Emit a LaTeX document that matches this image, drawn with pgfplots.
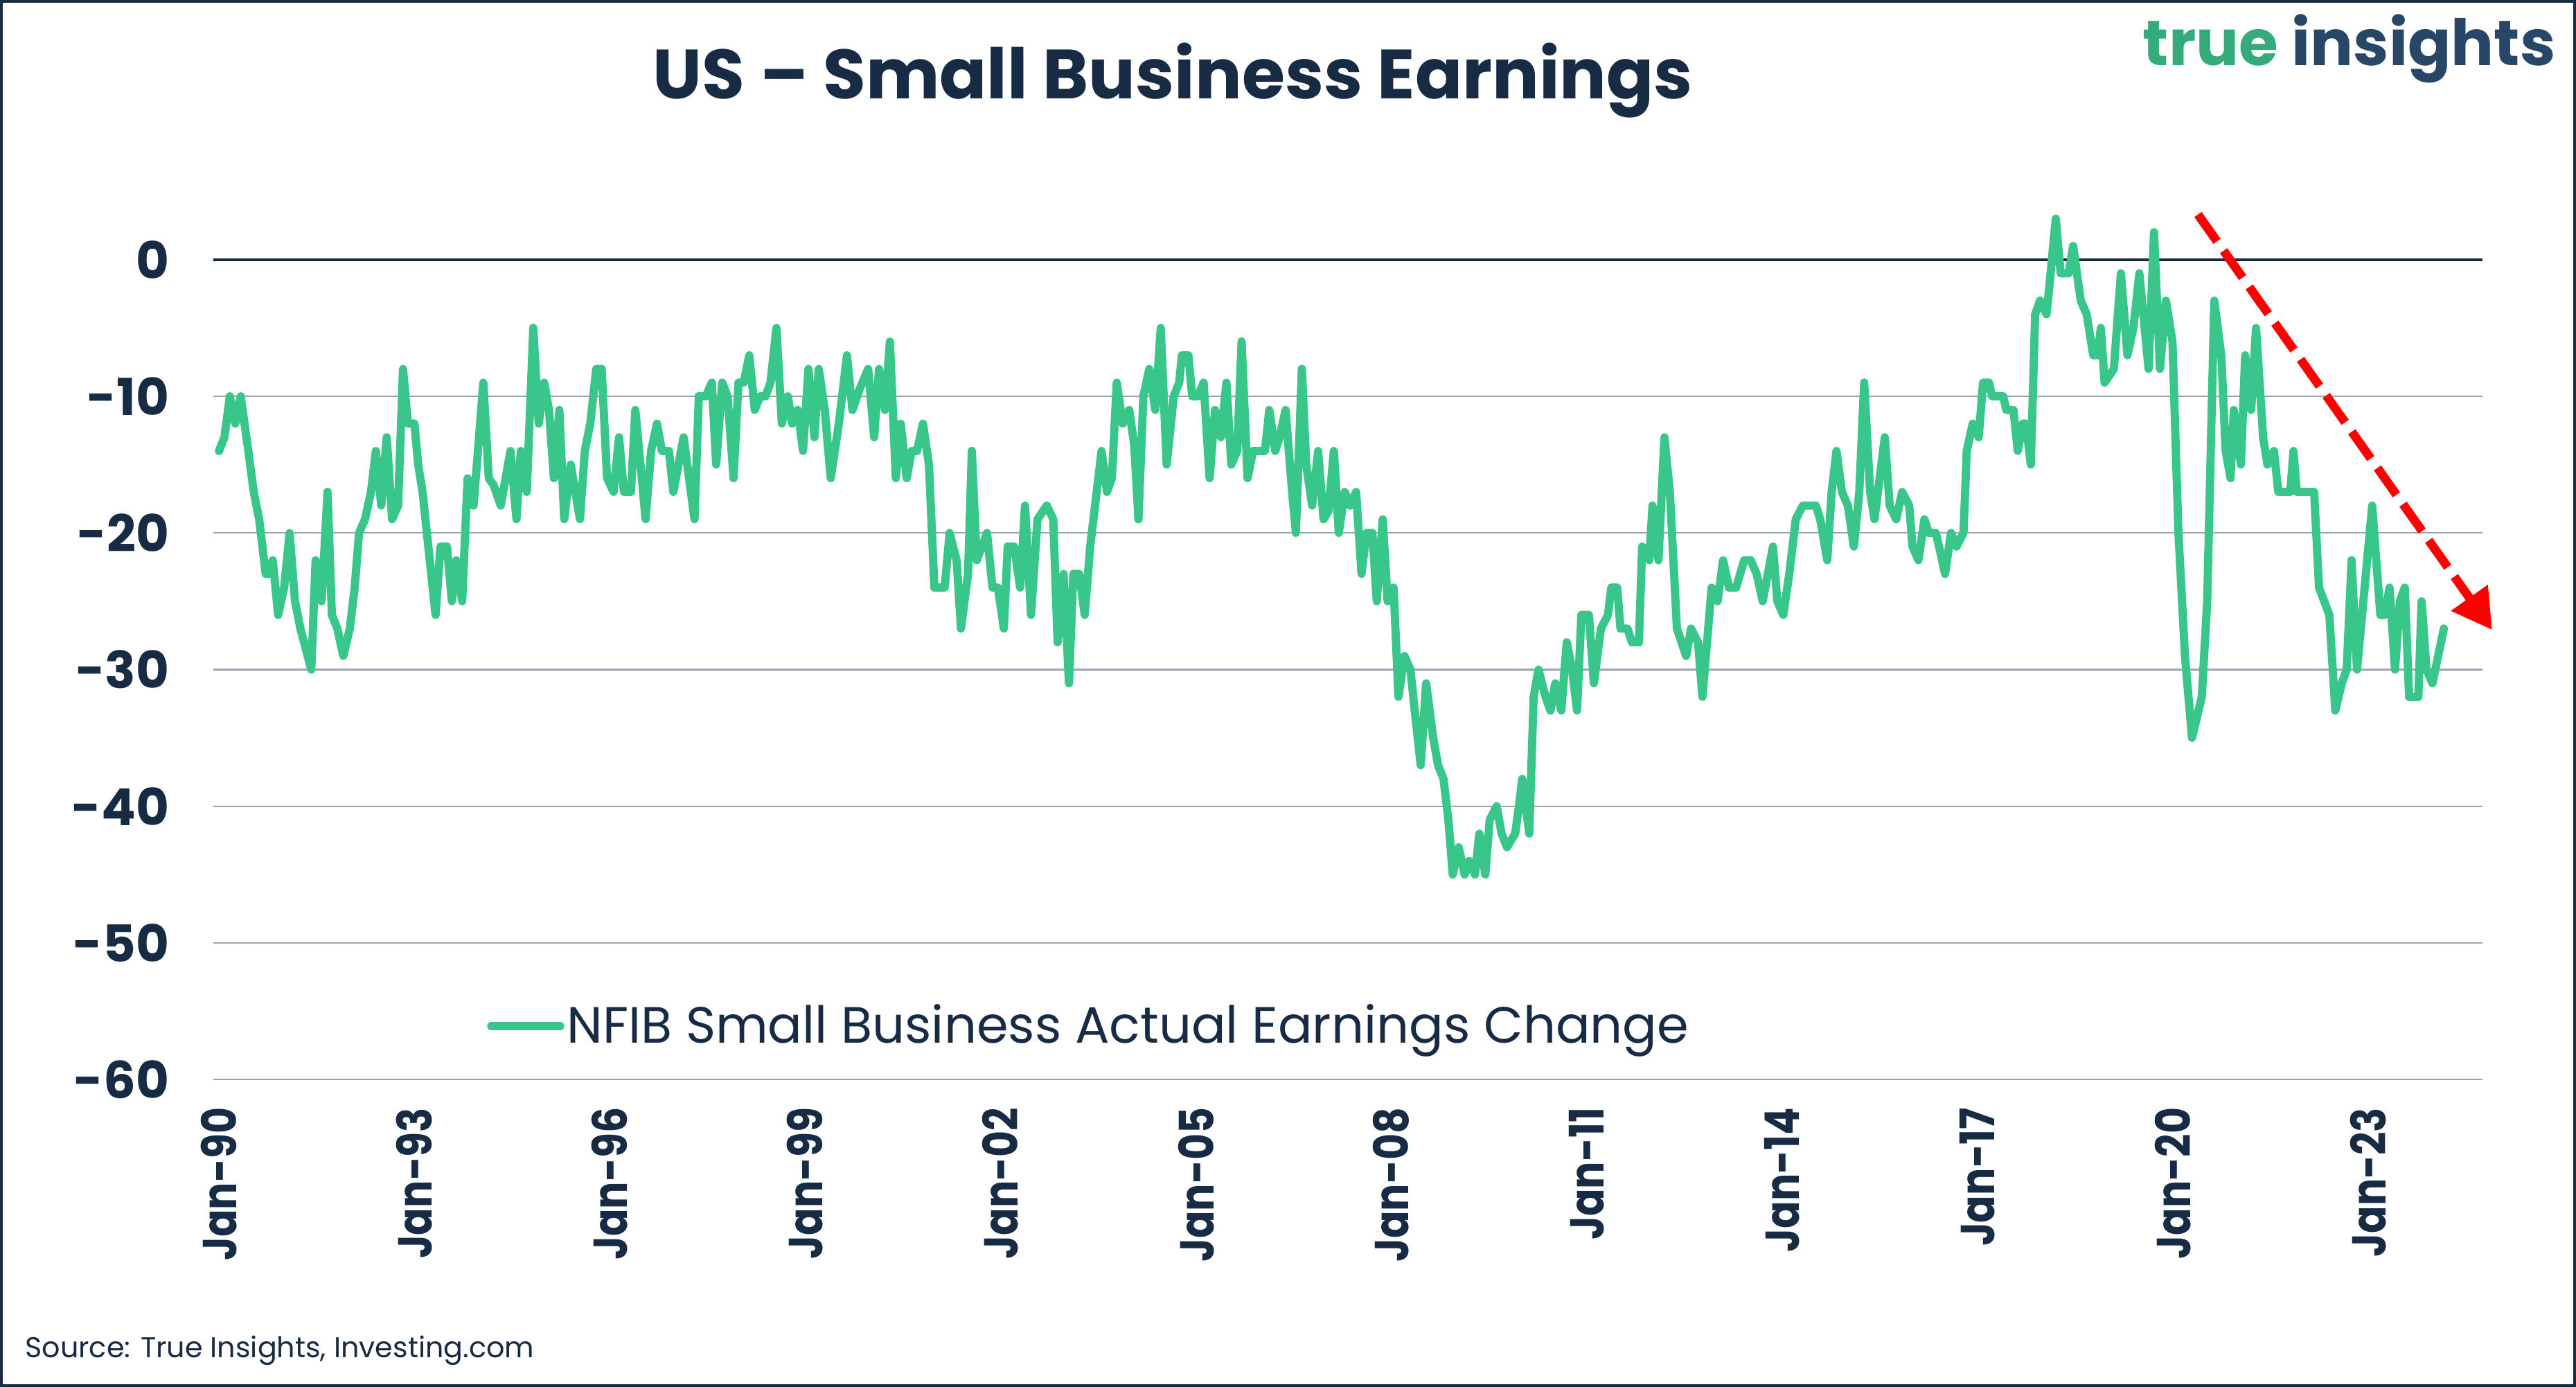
\documentclass[border=0pt]{standalone}
\usepackage{fontspec}
\setmainfont{Poppins}
\usepackage{pgfplots}
\pgfplotsset{compat=1.18}
\usetikzlibrary{arrows.meta}
\definecolor{navy}{HTML}{172B45}
\definecolor{lgreen}{HTML}{38C68B}
\definecolor{gridgray}{HTML}{9AA4AF}
\definecolor{logogreen}{HTML}{35AA7B}
\definecolor{logonavy}{HTML}{284768}
\newcommand{\xl}[1]{\scalebox{0.85}[1]{#1}}
\begin{document}
\begin{tikzpicture}[x=1pt,y=1pt]
\fill[white] (0,0) rectangle (784,422);
\useasboundingbox (0,0) rectangle (784,422);
\draw[navy, line width=0.9pt] (0.45,0.45) rectangle (783.55,421.55);
\node[anchor=base, font=\bfseries\fontsize{21.2}{21.2}\selectfont, text=navy] at (357,392) {US – Small Business Earnings};
\node[anchor=base, font=\bfseries\fontsize{19.4}{19.4}\selectfont] at (715,402) {\textcolor{logogreen}{true} \textcolor{logonavy}{insights}};
\node[anchor=base west, font=\fontsize{8.7}{8.7}\selectfont, text=navy, inner sep=0pt] at (7.5,9) {Source: True Insights, Investing.com};
\begin{axis}[
  at={(65pt,93.5pt)}, anchor=south west,
  scale only axis, width=690.5pt, height=270.3pt,
  xmin=-1, xmax=417, ymin=-60, ymax=5,
  axis line style={draw=none},
  tick style={draw=none}, major tick length=0pt,
  ytick={-60,-50,-40,-30,-20,-10,0},
  yticklabels={-60,-50,-40,-30,-20,-10,0},
  ymajorgrids, grid style={gridgray, line width=0.5pt},
  xtick={0,36,72,108,144,180,216,252,288,324,360,396},
  xticklabels={\xl{Jan-90},\xl{Jan-93},\xl{Jan-96},\xl{Jan-99},\xl{Jan-02},\xl{Jan-05},\xl{Jan-08},\xl{Jan-11},\xl{Jan-14},\xl{Jan-17},\xl{Jan-20},\xl{Jan-23}},
  xticklabel style={rotate=90, anchor=east, xshift=-5pt, font=\bfseries\fontsize{14.5}{14.5}\selectfont, text=navy},
  yticklabel style={anchor=east, xshift=-10pt, font=\bfseries\fontsize{15.5}{15.5}\selectfont, text=navy},
  clip=false,
  legend style={at={(axis cs:49.4,-56.1)}, anchor=west, draw=none, fill=none, inner sep=0pt, outer sep=0pt,
    font=\fontsize{15.5}{15.5}\selectfont, text=navy, nodes={inner sep=0.8pt}},
  legend image code/.code={\draw[#1, line cap=round] (0pt,0pt) -- (21pt,0pt);},
]
\draw[navy, line width=0.8pt] (axis cs:-1,0) -- (axis cs:417,0);
\addplot[lgreen, line width=2.5pt, line join=round, line cap=round] coordinates {
(0,-14)(1,-13)(2,-10)(3,-12)(4,-10)(5.4,-14)(6.4,-17)(7.4,-19)(8.6,-23)(9.2,-23)(9.9,-22)(10.9,-26)(12,-24)(13,-20)(14,-25)(15,-27)(16,-28.5)(17,-30)(17.8,-22)(18.9,-25)(20,-17)(20.8,-26)(21.8,-27)(22.9,-29)(24.1,-27)(25,-24)(25.8,-20)(26.9,-19)(28,-17)(28.9,-14)(29.9,-18)(30.9,-13)(31.9,-19)(33,-18)(33.9,-8)(34.8,-12)(36,-12)(36.7,-15)(37.5,-17)(38.7,-21.5)(39.9,-26)(40.8,-21)(42,-21)(42.9,-25)(43.7,-22)(44.8,-25)(45.8,-16)(46.9,-18)(48.7,-9)(49.7,-16)(50.6,-16.5)(51.9,-18)(53.7,-14)
(54.8,-19)(55.6,-14)(56.7,-17)(57.9,-5)(58.9,-12)(59.9,-9)(60.8,-11)(61.7,-16)(62.7,-11)(63.6,-19)(64.8,-15)(66.5,-19)(67.4,-14)(68.4,-12)(69.5,-8)(70.5,-8)(71.5,-16)(72.7,-17)(73.7,-13)(74.6,-17)(75.9,-17)(76.7,-11)(78.6,-19)(79.6,-14)(80.7,-12)(81.6,-14)(82.9,-14)(83.7,-17)(85.6,-13)(87.6,-19)(88.4,-10)(89.7,-10)(90.8,-9)(91.6,-15)(92.7,-9)(93.7,-10)(94.8,-16)(95.7,-9)(96.7,-9)(97.7,-7)(98.7,-11)(99.7,-10)(100.7,-10)(101.6,-9)(102.7,-5)(103.7,-12)(104.8,-10)(105.6,-12)
(106.6,-11)(107.6,-14)(108.6,-8)(109.7,-13)(110.5,-8)(111.6,-11)(112.7,-16)(114.2,-12)(115.7,-7)(116.7,-11)(118,-9.5)(119.6,-8)(120.7,-13)(121.6,-8)(122.7,-11)(123.6,-6)(124.7,-16)(125.6,-12)(126.7,-16)(127.6,-14)(128.6,-14)(129.7,-12)(130.8,-15)(131.8,-24)(132.8,-24)(133.7,-24)(134.6,-20)(135.9,-22)(136.7,-27)(138,-23)(138.7,-14)(139.6,-22)(141.5,-20)(142.5,-24)(143.5,-24)(144.6,-27)(145.3,-21)(146.5,-21)(147.6,-24)(148.5,-18)(149.6,-26)(150.8,-19)(152.5,-18)(153.7,-19)(154.5,-28)(155.6,-23)(156.6,-31)(157.4,-23)(158.5,-23)(159.5,-26)(160.5,-21)(161.4,-18)(162.6,-14)(163.6,-17)
(164.5,-16)(165.4,-9)(166.5,-12)(167.7,-11)(168.6,-13.5)(169.4,-19)(170.3,-10)(171.4,-8)(172.5,-11)(173.5,-5)(174.6,-15)(175.9,-10)(176.9,-9)(177.4,-7)(178.6,-7)(179.3,-10)(180.3,-10)(181.4,-9)(182.5,-16)(183.5,-11)(184.6,-13)(185.6,-9)(186.5,-15)(187.6,-14)(188.4,-6)(189.5,-16)(190.5,-14)(192.7,-14)(193.5,-11)(194.6,-14)(195.4,-13)(196.5,-11)(197.6,-16.5)(198.4,-20)(199.5,-8)(200.3,-15)(201.4,-18)(202.5,-14)(203.5,-19)(204.4,-18.4)(205.4,-14)(206.3,-20)(207.4,-17)(208.4,-18)(209.5,-17)(210.5,-23)(211.4,-20)(212.5,-20)(213.3,-25)(214.4,-19)(215.3,-25)(216.4,-24)
(217.3,-32)(218.4,-29)(219.5,-30)(220.3,-33)(221.4,-37)(222.4,-31)(223.7,-35)(224.6,-37)(225.6,-38)(226.5,-41)(227.3,-45)(228.4,-43)(229.5,-45)(230.3,-44)(231.4,-45)(232.2,-42)(233.3,-45)(234.1,-41)(235.4,-40)(236.3,-42)(237.3,-43)(238.8,-42)(239.5,-40)(240.1,-38)(241.4,-42)(242.2,-32)(243.1,-30)(244.4,-32)(245.3,-33)(246.2,-31)(247.3,-33)(248.3,-28)(249.3,-30)(250.2,-33)(251,-26)(252.4,-26)(253.3,-31)(254.6,-27)(255.9,-26)(256.5,-24)(257.6,-24)(258.2,-27)(259.5,-27)(260.3,-28)(261.6,-28)(262.2,-21)(263.5,-22)(264.1,-18)(265.2,-22)(266.3,-13)(267.3,-17)(268.6,-27)(270.3,-29)
(271.2,-27)(272.5,-28)(273.3,-32)(275,-24)(276.1,-25)(277.1,-22)(278.2,-24)(279.5,-24)(281,-22)(282.2,-22)(283.3,-23)(284.4,-25)(286.3,-21)(287.1,-25)(288.2,-26)(289.3,-23)(290.5,-19)(291.8,-18)(294.2,-18)(295,-19)(296.3,-22)(297.1,-17)(298,-14)(299,-17)(300.1,-18)(301.2,-21)(302.2,-17)(303.1,-9)(304.2,-17)(305,-19)(306.9,-13)(307.8,-18)(309,-19)(310.1,-17)(311.4,-18)(312,-21)(313.1,-22)(314.2,-19)(315,-20)(316.3,-20)(316.9,-21)(318,-23)(319.1,-20)(320.1,-21)(321.4,-20)(322,-14)(323.1,-12)(324.2,-13)(325,-9)(326.1,-9)
(326.7,-10)(328.7,-10)(329.3,-11)(330.6,-11)(331.4,-14)(332.3,-12)(332.9,-12)(333.8,-15)(334.6,-4)(335.5,-3)(336.7,-4)(337.2,-2)(338.4,3)(339.3,-1)(340.8,-1)(341.6,1)(343,-3)(344.1,-4)(345.3,-7)(346.1,-7)(346.7,-5)(347.4,-9)(349.1,-8)(350.4,-1)(351.6,-7)(352.7,-5)(353.8,-1)(355.5,-8)(356.5,2)(357.6,-8)(358.7,-3)(359.9,-6)(361,-20)(362.2,-29)(363.5,-35)(365.3,-32)(366.3,-25)(367.6,-3)(368.9,-7)(369.7,-14)(370.6,-16)(371.2,-11)(372.5,-15)(373.3,-7)(374.4,-11)(375.3,-5)(376.6,-13)(377.4,-15)
(378.6,-14)(379.4,-17)(381.6,-17)(382.2,-14)(382.8,-17)(386,-17)(386.9,-24)(388.8,-26)(389.9,-33)(391.1,-31)(392,-30)(392.9,-22)(393.9,-30)(396.7,-18)(398.2,-26)(399,-26)(399.9,-24)(400.9,-30)(401.8,-25)(402.7,-24)(403.5,-32)(405.2,-32)(405.8,-25)(406.7,-30)(407.8,-31)(409.9,-27)
};
\addlegendentry{NFIB Small Business Actual Earnings Change}
\draw[red, line width=2.7pt, dash pattern=on 10pt off 3.5pt, -{Triangle[length=12pt,width=13pt]}] (axis cs:364.6,3.3) -- (axis cs:418.8,-27.1);
\end{axis}
\end{tikzpicture}
\end{document}
